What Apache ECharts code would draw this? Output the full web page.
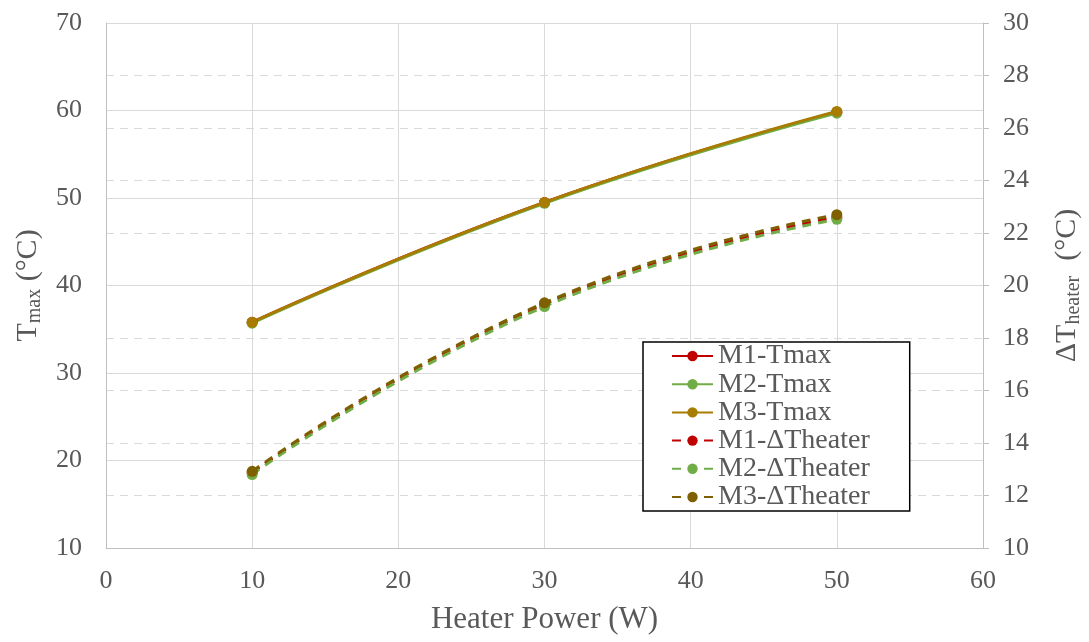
<!DOCTYPE html>
<html>
<head>
<meta charset="utf-8">
<script src="https://cdn.jsdelivr.net/npm/echarts@6/dist/echarts.min.js"></script>
<style>html,body{margin:0;padding:0;background:#fff;}#c{width:1089px;height:642px;}</style>
</head>
<body>
<div id="c"></div>
<script>
var xPower = [10, 30, 50];
var m1Tmax = [35.8, 49.5, 59.8];
var m2Tmax = [35.7, 49.4, 59.7];
var m3Tmax = [35.8, 49.5, 59.9];
var m1dT = [12.87, 19.28, 22.6];
var m2dT = [12.8, 19.2, 22.52];
var m3dT = [12.92, 19.34, 22.7];
var seriesNames = ['M1-Tmax', 'M2-Tmax', 'M3-Tmax', 'M1-\u0394Theater', 'M2-\u0394Theater', 'M3-\u0394Theater'];
var colors = ['#C00000', '#70AD47', '#A87C00', '#C00000', '#70AD47', '#7F6000'];

function pts(vals) { return xPower.map(function (x, i) { return [x, vals[i]]; }); }
var FONT = 'Liberation Serif';
var TXT = '#595959';
var GRID = '#d9d9d9';

function mk(i, vals, dashed) {
  return {
    name: seriesNames[i], type: 'line', yAxisIndex: dashed ? 1 : 0,
    data: pts(vals), smooth: 0.5, symbol: 'circle', symbolSize: 11,
    lineStyle: { color: colors[i], width: 3, type: dashed ? [9, 7] : 'solid' },
    itemStyle: { color: colors[i] }
  };
}

var chart = echarts.init(document.getElementById('c'), null, { renderer: 'canvas' });
var richName = {
  m: { fontFamily: FONT, fontSize: 30, color: TXT, verticalAlign: 'middle' },
  s: { fontFamily: FONT, fontSize: 20, color: TXT, verticalAlign: 'middle', padding: [14, 0, 0, 0] }
};
chart.setOption({
  animation: false,
  textStyle: { fontFamily: FONT },
  grid: { left: 106, right: 106, top: 23, bottom: 94, containLabel: false, outerBoundsMode: 'none' },
  xAxis: {
    type: 'value', min: 0, max: 60, interval: 10,
    name: 'Heater Power (W)', nameLocation: 'middle', nameGap: 56,
    nameTextStyle: { fontFamily: FONT, fontSize: 31, color: TXT },
    axisLine: { show: true, lineStyle: { color: '#bfbfbf', width: 1 } },
    axisTick: { show: false },
    axisLabel: { fontFamily: FONT, fontSize: 26, color: TXT, margin: 20 },
    splitLine: { show: true, lineStyle: { color: GRID, width: 1 } }
  },
  yAxis: [{
    type: 'value', min: 10, max: 70, interval: 10, position: 'left',
    name: '{m|T}{s|max}{m| (\u00B0C)}', nameLocation: 'middle', nameGap: 57, nameRotate: 90,
    nameTextStyle: { rich: richName },
    axisLine: { show: true, lineStyle: { color: '#bfbfbf', width: 1 } },
    axisTick: { show: false },
    axisLabel: { fontFamily: FONT, fontSize: 26, color: TXT, margin: 24 },
    splitLine: { show: true, lineStyle: { color: GRID, width: 1 } }
  }, {
    type: 'value', min: 10, max: 30, interval: 2, position: 'right',
    name: '{m|\u0394T}{s|heater}{m|  (\u00B0C)}', nameLocation: 'middle', nameGap: 67, nameRotate: 90,
    nameTextStyle: { rich: richName },
    axisLine: { show: true, lineStyle: { color: '#bfbfbf', width: 1 } },
    axisTick: { show: true, length: 6, lineStyle: { color: '#bfbfbf' } },
    axisLabel: { fontFamily: FONT, fontSize: 26, color: TXT, margin: 20 },
    splitLine: { show: true, lineStyle: { color: GRID, width: 1, type: [8, 6] } }
  }],
  legend: {
    data: seriesNames, orient: 'vertical', left: 643, top: 342,
    backgroundColor: '#fff', borderColor: '#000', borderWidth: 1.5,
    padding: [0, 40, 0, 28], itemGap: 0.2, itemWidth: 41, itemHeight: 13,
    textStyle: { fontFamily: FONT, fontSize: 28, color: TXT, lineHeight: 28 }
  },
  series: [
    mk(0, m1Tmax, false), mk(1, m2Tmax, false), mk(2, m3Tmax, false),
    mk(3, m1dT, true), mk(4, m2dT, true), mk(5, m3dT, true)
  ]
});
</script>
</body>
</html>
